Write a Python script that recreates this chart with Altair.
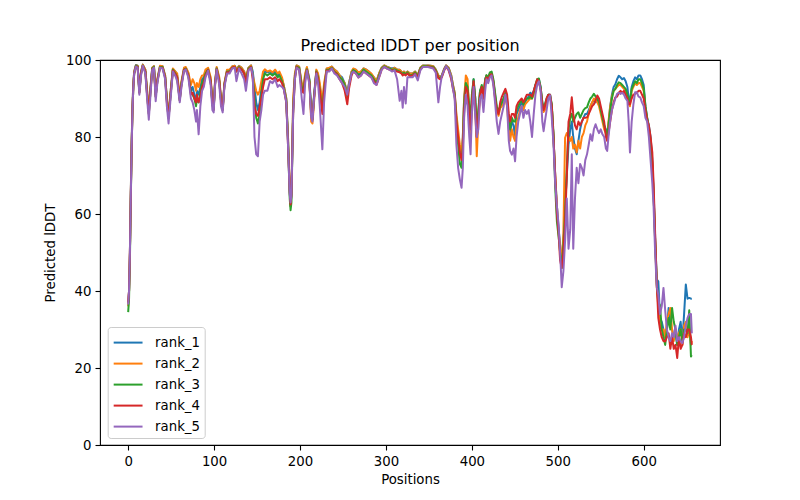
import altair as alt
import pandas as pd

positions = [
    0, 1, 2, 3, 4, 5, 6, 7, 9, 11, 13, 15, 17, 20,
    22, 24, 26, 28, 30, 32, 34, 37, 40, 43, 45, 47, 49,
    52, 55, 57, 60, 62, 65, 67, 70, 73, 75, 77, 79, 80,
    82, 84, 86, 88, 90, 93, 96, 98, 99.5, 101, 103, 106, 108,
    110, 112, 115, 118, 121, 124, 126, 129, 132, 135, 137, 140, 143,
    145, 147, 149, 151, 153, 155, 157, 159, 162, 165, 168, 171, 174,
    176, 179, 181, 184, 186, 188, 189, 190, 192, 194, 196, 199, 202,
    204, 206, 208, 211, 213, 214.5, 216, 219, 221, 223, 226, 228, 231,
    234, 237, 240, 243, 246, 249, 252, 255, 257, 260, 262, 265, 268,
    271, 274, 277, 280, 283, 286, 289, 292, 295, 298, 301, 304, 307,
    310, 313, 316, 318, 319.5, 321, 323, 325, 328, 331, 334, 337, 340,
    343, 346, 349, 352, 355, 358, 361, 363, 365, 368, 370, 373, 376,
    378, 380, 382, 384, 386, 388, 389.5, 391, 393, 395, 397, 398.5, 400,
    402, 404, 405.7, 407.5, 409.5, 411.5, 413.5, 415.5, 417, 419, 421, 423, 425,
    427, 429, 431, 433, 435, 437, 439, 441, 443, 444.5, 446.5, 448.5, 450.3,
    452, 454, 456, 458, 460, 462, 464, 466, 468, 470, 472, 474, 476,
    478, 480, 482, 483.5, 485, 487, 489, 491, 493, 495, 497, 499, 501,
    502.7, 504.6, 506.5, 508.5, 510.5, 512.5, 514.5, 516.3, 518, 520, 522, 524, 526,
    528, 530, 532, 534, 536, 538, 540, 542, 544, 546, 548, 550, 552,
    554, 556, 557.5, 559, 561, 563, 565, 567, 569, 571, 573, 575, 577,
    579, 581, 582.5, 584, 586, 588, 590, 592, 594, 596, 598, 600, 602,
    604, 606, 608, 610, 611.5, 613.3, 615.2, 617, 619, 621, 623, 625, 627,
    629, 631, 633, 635, 637, 639, 641, 643, 645, 647, 649, 651, 653, 655, 656,
]

rank_1 = [
    37, 40, 50, 65, 78, 88, 94, 97, 98.7, 98.5, 92, 97, 98.8, 97.5,
    92, 87, 93, 98, 98.4, 91, 95, 98.3, 98.4, 96, 90, 85.5, 91,
    97.6, 97, 96, 90, 94, 97.8, 98, 96.5, 92, 93, 91, 89, 92,
    91, 93, 95, 95.5, 97, 97.8, 95, 89, 87.5, 94, 98, 95, 90,
    87.5, 94, 97.3, 97.3, 98.3, 98.5, 97.5, 98.5, 98, 97, 95, 98, 98.6,
    97, 93, 89, 87, 89, 93, 96, 97, 96.8, 97, 96.5, 97, 96,
    96.5, 95, 93.5, 90, 80, 66, 62, 65, 88, 96, 98.6, 98.2, 93.5,
    92, 96, 98, 95, 87, 85, 90, 97.3, 96, 93, 88, 93, 97.7,
    97.8, 98.3, 97.5, 97, 96, 95.5, 94, 91.5, 94, 97, 97.6, 97.5, 96.5,
    97, 97.8, 97.5, 97, 96.3, 95.5, 94.5, 96.5, 98, 98.6, 98.3, 98, 97.8,
    98, 97.5, 97.5, 97, 96.5, 97, 96.5, 97, 96.5, 96.5, 97, 96, 98,
    98.6, 98.6, 98.6, 98.5, 98.4, 97.5, 96, 95.5, 96, 97.8, 98.6, 98, 96,
    93.5, 91.5, 85, 80, 77, 75, 80, 90, 94, 92, 85, 80, 90,
    95, 90, 80, 86, 92, 93, 90, 95, 96, 95, 96.5, 96.5, 94.5,
    91, 87, 86, 88, 89, 90, 91, 90, 84, 81, 84, 83, 80,
    86, 87, 88, 89, 88, 89, 90, 90.5, 91.5, 91, 92, 93.5, 94.5,
    95, 93, 89, 87, 88, 89.5, 91, 91, 88, 80, 70, 62, 56,
    52, 47, 52, 62, 70, 78, 82, 84, 80, 77, 75.5, 79, 82,
    84, 85, 86, 86, 87, 88, 89, 89.5, 89, 89.5, 89.4, 87, 85,
    83, 82, 81, 83, 88, 91, 93, 93.7, 95, 95.9, 95.5, 95, 95.3,
    94.5, 93, 90, 89.4, 93, 94.5, 95.5, 95, 96, 96, 95, 93.5, 88,
    85, 83, 80, 74, 66, 54, 43, 42.5, 33, 32, 30, 28, 30,
    35.6, 31, 30, 28, 29, 26, 30, 32, 27, 34, 41.7, 38, 38.2, 38, 38,
]

rank_2 = [
    36, 40, 50, 65, 78, 88, 94, 97, 98.6, 98.5, 92, 97, 98.8, 97.5,
    92, 87, 93, 98, 98.4, 91, 95, 98.5, 98.4, 96, 90, 85.5, 91,
    97.8, 97, 96.5, 90.5, 94.5, 98, 98.2, 96.8, 93.5, 95, 94, 92, 94,
    93, 95, 96, 96, 97.5, 98, 95.5, 89, 87.5, 94, 98.2, 95.5, 90,
    87.5, 94, 97.5, 97.5, 98.3, 98.5, 97.5, 98.4, 98, 97, 95.5, 98, 98.6,
    96, 94, 92, 91, 92, 94.5, 97, 97.6, 97, 97.3, 96.8, 97.5, 96.5,
    97, 95.5, 93.5, 90, 80, 66, 62, 66, 90, 96.5, 98.6, 98.3, 94,
    93, 96.5, 98.2, 94.5, 84, 83.5, 88, 97.5, 96.5, 94, 89, 94, 97.8,
    98, 98.3, 97.5, 97, 96, 95, 94, 91, 94, 97, 97.8, 97.5, 96.8,
    97, 97.8, 97.5, 97, 96.5, 95.5, 94.5, 96.5, 98, 98.6, 98.2, 98, 97.5,
    98, 97.5, 97.5, 97, 96.5, 97, 96.5, 97, 96.5, 96.5, 97, 96, 98,
    98.6, 98.5, 98.6, 98.5, 98.4, 97.5, 96, 95.5, 96, 97.8, 98.6, 98, 96,
    93.5, 91.5, 86, 82, 78, 76, 80, 90, 96, 95, 86, 80, 88,
    94, 88, 75, 84, 91, 93, 90, 94.5, 96, 94.5, 96, 96.5, 94.5,
    90.5, 87, 85.5, 87.5, 88, 89, 90, 88, 82, 79, 82, 80, 79,
    84, 85, 87, 88, 87, 88.5, 89, 89.5, 90, 90, 91, 93, 94.5,
    94.5, 92.5, 88, 86.5, 87, 89, 90.5, 90.5, 88, 80, 70, 62, 55,
    52, 46, 55, 79.8, 81, 80, 79, 80, 77, 78, 76, 79, 77,
    80, 81, 83, 84, 86, 88, 89, 90, 89.5, 89, 88, 86, 84,
    82, 81, 80, 84, 88, 90.5, 92, 92.5, 93, 93.5, 93.5, 93, 92.5,
    92, 90, 88.5, 88, 92, 93, 94, 93.5, 94, 94, 93, 92, 87.5,
    84.5, 82, 79, 73, 65, 53, 41, 36, 31, 30, 30, 28, 32,
    34, 35.6, 30, 27, 30, 28, 29, 30, 26, 31, 32, 28, 30, 26, 27,
]

rank_3 = [
    34.5, 38, 48, 63, 77, 87, 93, 96.5, 98.5, 98.3, 91.5, 96.5, 98.6, 97,
    91, 86, 92, 97.8, 98.2, 90.5, 94.5, 98.2, 98.2, 95.5, 89.5, 85, 90,
    97.5, 96.5, 95.5, 89.5, 94, 97.5, 97.8, 96, 91.5, 91, 90, 88, 90,
    89, 91.5, 94, 95, 96.5, 97.5, 94.5, 88.5, 87, 93.5, 97.8, 94.5, 89.5,
    87, 93.5, 97, 97, 98, 98.2, 97, 98.2, 97.6, 96.5, 94.5, 97.8, 98.3,
    96, 90, 85, 83.5, 86, 91, 95, 96.5, 96, 96.5, 96, 96.5, 95.5,
    96, 94.5, 93, 89.5, 79, 64, 61, 63, 87, 95.5, 98.3, 98, 93,
    92, 95.5, 97.6, 94.5, 86, 84.5, 89.5, 97, 95.5, 92, 87, 92.5, 97.5,
    97.5, 98, 97, 96.5, 95.5, 95, 93.5, 90.5, 93.5, 96.5, 97.4, 97, 96,
    96.5, 97.5, 97, 96.5, 96, 95, 94, 96, 97.8, 98.4, 98, 97.8, 97.5,
    97.6, 97.3, 97, 96.7, 96.3, 96.7, 96.3, 96.8, 96, 96.2, 96.8, 95.8, 97.8,
    98.4, 98.4, 98.4, 98.3, 98.2, 97.3, 95.5, 95.3, 95.8, 97.6, 98.4, 97.7, 95.5,
    93, 91, 84, 78, 73, 72, 78, 89, 94, 93, 88, 84, 91,
    95, 90, 82, 87, 92, 93.5, 91, 95, 96, 95.5, 96.8, 97, 95,
    91.5, 88, 86.5, 88, 89, 90, 91.5, 89, 84, 82, 85, 84, 84,
    87, 88, 89, 89.5, 88.5, 89.5, 90, 90, 90.5, 90, 91.5, 93.5, 95,
    95.2, 93, 89, 87.5, 88.5, 90, 91, 91, 88.5, 81, 67, 58, 54,
    50, 46, 52, 60, 72, 82, 85, 86, 84, 85, 86, 86.4, 85,
    86, 87, 87.5, 87.7, 89, 90, 90.5, 91.2, 90.5, 90, 89, 87, 85,
    83, 81.5, 80, 83, 87, 90, 92, 92.5, 93.5, 94.2, 94, 93.5, 93,
    92.5, 91, 89.5, 89, 92.5, 93.5, 94.5, 94, 95, 95, 94, 92.5, 88,
    85, 82.5, 79, 73, 65, 53, 42, 37, 36.3, 30, 28, 26, 30,
    33, 30, 35.6, 32, 30, 26, 28, 30, 27, 30, 30, 29, 35, 23, 23.4,
]

rank_4 = [
    37, 40, 50, 64, 77, 87, 93, 96.5, 98.3, 98.2, 91.5, 96.5, 98.5, 97,
    91, 86, 92, 97.6, 98, 90.5, 94.5, 98, 98, 95.5, 89, 85, 90,
    97.3, 96.3, 95.5, 89.5, 93.5, 97.5, 97.6, 96, 91, 91.5, 90, 89, 91,
    89, 90.5, 93, 94, 96, 97.4, 94.5, 88.5, 87, 93.5, 97.6, 94.5, 89.5,
    87, 93.5, 96.8, 96.8, 98, 98.2, 97, 98, 97.5, 96.5, 94, 97.5, 98.2,
    95, 88, 86, 85.5, 88, 90, 93, 95, 95, 95.5, 95, 95.5, 94.5,
    95, 94, 92.5, 89, 78, 66, 62.5, 65, 86, 95, 98.2, 97.5, 92,
    91.5, 95, 97.4, 94, 86, 84.5, 89.5, 96.8, 95, 92, 86, 92, 97.3,
    97.2, 97.8, 96.8, 96.3, 95, 94, 92, 88.5, 92.5, 96, 97, 96.5, 95.5,
    96, 97, 96.5, 96, 95.5, 94.5, 93.5, 95.5, 97.5, 98.2, 97.8, 97.5, 97.3,
    97.3, 97, 96.8, 96.5, 96, 96.3, 96, 96.5, 95.8, 96, 96.5, 95.5, 97.5,
    98.2, 98.2, 98.3, 98.1, 98, 97, 95.3, 95, 95.5, 97.4, 98.3, 97.3, 95,
    92.5, 90.5, 84, 80, 76, 74, 77, 87, 93, 92, 85, 82, 89,
    94.5, 88, 80, 85, 91, 93, 90, 94.5, 95.5, 95, 96, 96.3, 94,
    90, 87, 86, 89, 90.5, 91.5, 92.5, 91, 86, 84, 86, 86, 85,
    88, 89, 89.5, 90, 89, 90, 91, 91, 91, 90.5, 92, 93.5, 95,
    94.5, 92.5, 88.5, 87, 88, 90, 91, 91, 88, 80, 70, 60, 55,
    48, 46, 50, 58, 70, 84, 86, 90.3, 86, 83, 82, 84, 83,
    84, 85, 85, 85.1, 86, 87, 88, 88.5, 89.5, 90.8, 90, 88, 86,
    84, 80, 79, 81, 84, 87, 89, 90.3, 90.5, 91.5, 92, 91.5, 92,
    91, 90, 88.5, 88.5, 90, 91, 91.2, 91.5, 92, 92, 91, 90, 87,
    84.5, 83, 80, 76, 68, 55, 42, 33, 30, 28, 27, 26.9, 28,
    29, 25, 28, 25, 26, 22.6, 28, 25, 26, 29, 28, 30, 30, 28, 26,
]

rank_5 = [
    36.5, 40, 50, 64, 77, 87, 93, 96.5, 98.3, 98, 91, 96, 98.5, 96.5,
    90, 84.5, 91, 97.5, 98, 89.3, 94, 98, 97.8, 95, 88, 83.5, 89,
    97, 95.8, 94.5, 89, 93, 97.2, 97.5, 95.5, 90, 89, 87, 84, 87,
    80.7, 88, 92, 93, 95.5, 97.2, 93.5, 87, 86.4, 93, 97.5, 93.5, 88,
    86.4, 93, 96.5, 96.5, 97.8, 98, 94.5, 97.8, 96.5, 95, 92, 97.3, 98,
    96, 80, 75.5, 75, 84, 87, 91, 92, 92, 94.5, 94, 95, 93,
    93.5, 93, 92.5, 89, 78, 65, 63, 65, 86, 95, 98, 97.5, 90,
    86, 94, 97.3, 93.5, 85, 84, 89, 96.5, 94, 88, 76.8, 89, 97,
    97, 97.8, 96.5, 96, 95, 94, 93, 91, 93.5, 96.5, 97, 96.5, 95.5,
    96, 97, 96.5, 96, 95.5, 94, 93.5, 95.5, 97.5, 98.2, 97.8, 97.5, 97,
    97.3, 95, 89.4, 92, 87.6, 93, 88.7, 95.5, 95.5, 95.5, 96.3, 94.7, 97.3,
    98.2, 98.2, 98.2, 98, 97.8, 96.7, 89, 93, 95.8, 97.5, 98.4, 97.5, 95.5,
    92.5, 90, 78, 72, 69, 66.8, 72, 85, 91, 88, 80, 75.5, 86,
    93, 85, 80, 82, 90, 91, 86.5, 92, 95, 94, 95.5, 96, 93.5,
    89, 84, 80.8, 84, 86, 88, 91, 88, 79, 76.4, 75.4, 77, 73.7,
    80, 84, 86, 88, 85, 87, 86, 87, 84, 80, 86, 91, 93.5,
    94.5, 92, 84, 81.5, 84, 87, 90, 90.8, 85, 78, 68, 62, 57,
    50, 41, 45, 53, 64, 51, 56, 75.5, 51, 64, 72, 68, 73,
    72, 70, 74, 75.5, 78, 80.7, 79, 82, 83.3, 82, 81, 82, 80.7,
    80, 77, 76.4, 80, 84.2, 87, 88.5, 90, 91.2, 91.5, 91.2, 91.5, 91,
    90, 89.4, 84, 76, 84, 88.5, 91.6, 91.6, 90.5, 90.3, 89, 88, 85,
    84, 80, 74, 68, 62, 50, 41, 39, 34, 36, 40.8, 35, 30,
    28, 27, 29, 28, 31, 27, 28, 27, 26.5, 28, 31, 33, 34, 34, 29,
]

rank_names = ["rank_1", "rank_2", "rank_3", "rank_4", "rank_5"]
rank_colors = ["#1f77b4", "#ff7f0e", "#2ca02c", "#d62728", "#9467bd"]
x_ticks = [0, 100, 200, 300, 400, 500, 600]
y_ticks = [0, 20, 40, 60, 80, 100]

series = [rank_1, rank_2, rank_3, rank_4, rank_5]
for s in series:
    assert len(s) == len(positions), (len(s), len(positions))

rows = []
for name, vals in zip(rank_names, series):
    for p, v in zip(positions, vals):
        rows.append({"Position": p, "lDDT": v, "rank": name})
df = pd.DataFrame(rows)

FONT = "DejaVu Sans"

chart = (
    alt.Chart(df)
    .mark_line(strokeWidth=2, strokeJoin="round", clip=True)
    .encode(
        x=alt.X(
            "Position:Q",
            scale=alt.Scale(domain=[-32.8, 688.8], nice=False, zero=False),
            axis=alt.Axis(values=x_ticks, format="d", title="Positions", titlePadding=5),
        ),
        y=alt.Y(
            "lDDT:Q",
            scale=alt.Scale(domain=[0, 100], nice=False),
            axis=alt.Axis(values=y_ticks, format="d", title="Predicted lDDT", titlePadding=8),
        ),
        color=alt.Color(
            "rank:N",
            scale=alt.Scale(domain=rank_names, range=rank_colors),
            legend=alt.Legend(
                title=None,
                orient="none",
                legendX=7.7,
                legendY=267,
                symbolType="M-1,0H2",
                symbolSize=370,
                symbolStrokeWidth=2,
                labelOffset=20.8,
                padding=4.6,
                rowPadding=3,
                fillColor="rgba(255,255,255,0.8)",
                strokeColor="#cccccc",
                cornerRadius=3,
                labelFont=FONT,
                labelFontSize=13.3,
                labelColor="black",
            ),
        ),
    )
    .properties(
        width=620,
        height=385,
        title=alt.TitleParams(
            "Predicted lDDT per position",
            font=FONT,
            fontSize=16,
            fontWeight="normal",
            color="black",
            anchor="middle",
            offset=-1,
        ),
        autosize=alt.AutoSizeParams(type="none"),
        padding={"left": 92, "top": 52, "right": 64, "bottom": 52},
    )
    .configure_view(stroke="black", strokeWidth=1.1)
    .configure_axis(
        grid=False,
        domain=False,
        tickColor="black",
        tickSize=5,
        tickWidth=1.1,
        labelFont=FONT,
        labelFontSize=13.3,
        labelColor="black",
        labelPadding=4,
        titleFont=FONT,
        titleFontSize=13.3,
        titleFontWeight="normal",
        titleColor="black",
    )
)

chart.save("out.html", embed_options={"renderer": "svg", "actions": False})
